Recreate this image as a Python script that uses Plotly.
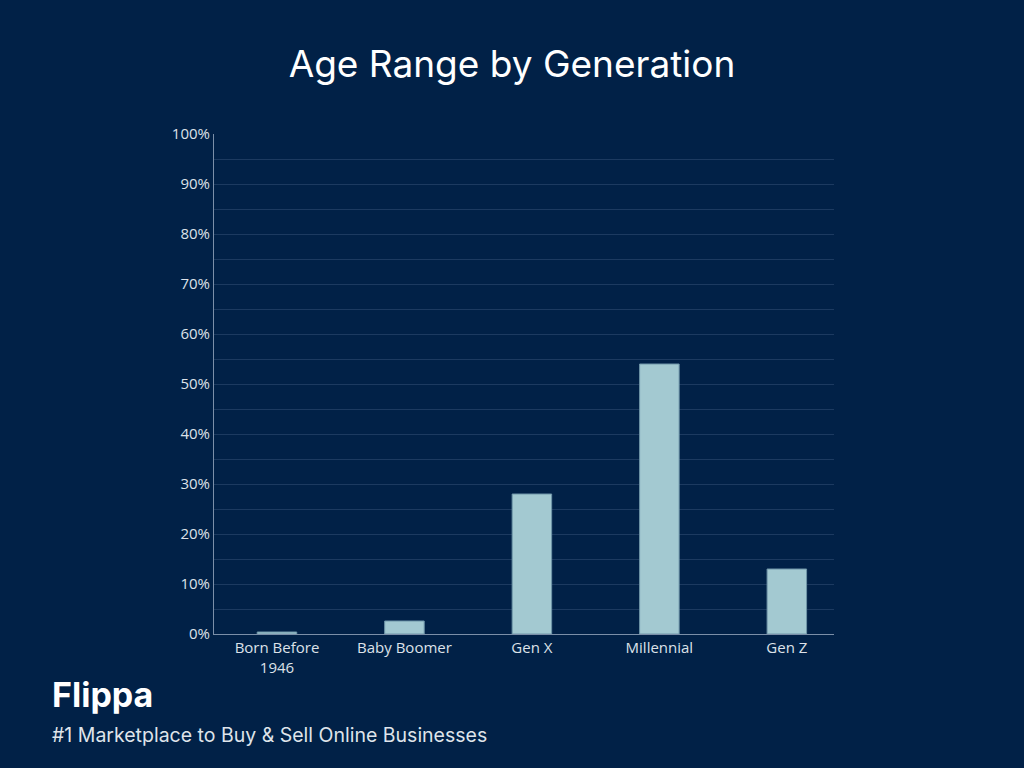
import plotly.graph_objects as go

categories = ["Born Before<br>1946", "Baby Boomer", "Gen X", "Millennial", "Gen Z"]
values = [0.4, 2.6, 28, 54, 13]
tick_vals = list(range(0, 101, 10))
tick_text = [f"{v}%" for v in tick_vals]

BG = "#012147"

fig = go.Figure()
fig.add_trace(go.Bar(
    x=categories, y=values,
    marker=dict(color="#a3c9d1", line=dict(color="#6f95a8", width=1)),
    width=0.31,
))

fig.update_layout(
    width=1024, height=768,
    paper_bgcolor=BG, plot_bgcolor=BG,
    margin=dict(l=214, r=190, t=134, b=134),
    showlegend=False,
    title=dict(text="Age Range by Generation", x=0.5, xanchor="center",
               y=1 - 64/768, yanchor="middle",
               font=dict(family="Inter, Lato, sans-serif", size=37, color="#ffffff")),
    font=dict(family="Open Sans, sans-serif", size=15, color="#d6dbe3"),
)
fig.update_yaxes(range=[0, 100], tickvals=tick_vals, ticktext=tick_text,
                 showgrid=True, gridcolor="#1c3a60", gridwidth=1,
                 minor=dict(dtick=5, showgrid=True, gridcolor="#1c3a60", gridwidth=1),
                 showline=True, linecolor="#7b8fa8", linewidth=1,
                 zeroline=False, ticks="", fixedrange=True,
                 tickfont=dict(size=15, color="#dde2e9"))
fig.update_xaxes(showline=True, linecolor="#7b8fa8", linewidth=1,
                 showgrid=False, ticks="", range=[-0.494, 4.37], fixedrange=True,
                 tickfont=dict(size=15, color="#dde2e9"))

fig.add_annotation(text="<b>Flippa</b>", xref="paper", yref="paper",
                   x=(50 - 214) / 620, y=(634 - 694) / 500,
                   xanchor="left", yanchor="middle", showarrow=False,
                   font=dict(family="Inter, sans-serif", size=34, color="#ffffff"))
fig.add_annotation(text="#1 Marketplace to Buy &amp; Sell Online Businesses", xref="paper", yref="paper",
                   x=(50 - 214) / 620, y=(634 - 735) / 500,
                   xanchor="left", yanchor="middle", showarrow=False,
                   font=dict(family="Inter, Lato, sans-serif", size=19.5, color="#dfe4ea"))

fig.write_html("out.html", config={"displayModeBar": False},
               post_script="document.body.style.margin='0';document.body.style.background='%s';" % BG)
